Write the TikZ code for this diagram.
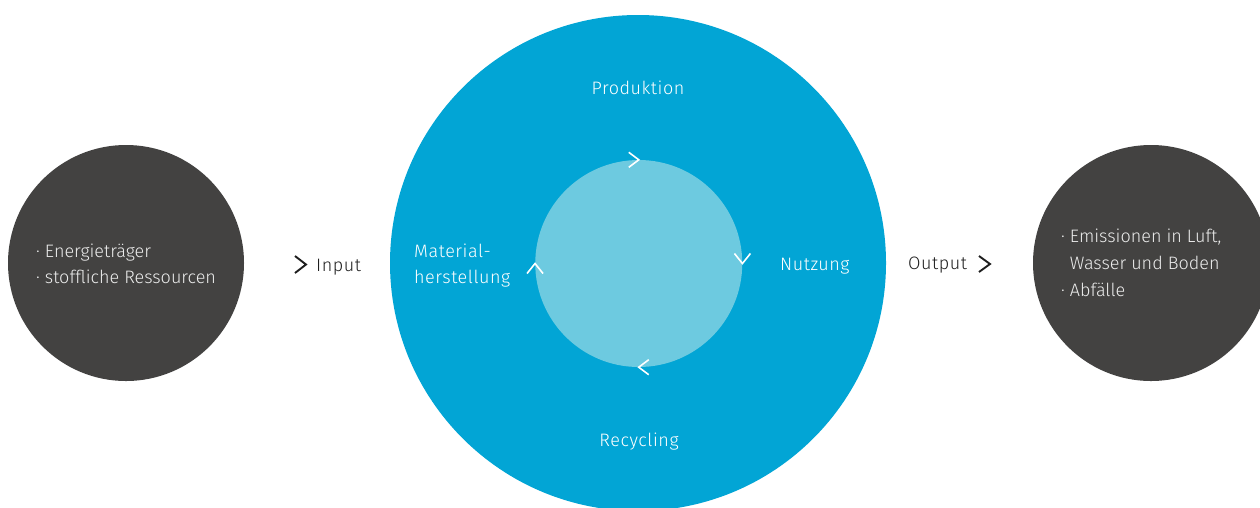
\documentclass[tikz,border=0pt]{standalone}
\usepackage{fontspec}
\setmainfont{Fira Sans}[UprightFont=* Light, LetterSpace=3]
\newfontfamily\tightfont{Fira Sans}[UprightFont=* Light, LetterSpace=0]
\definecolor{darkc}{HTML}{434241}
\definecolor{bluec}{HTML}{02A5D5}
\definecolor{lightc}{HTML}{6DCAE0}
\definecolor{palet}{HTML}{ECECEC}
\definecolor{inkc}{HTML}{1E1E1E}
\begin{document}
\begin{tikzpicture}[x=1pt,y=-1pt,
  disc/.style={circle, inner sep=0pt, draw=none},
  txt/.style={font=\fontsize{18}{27}\selectfont, inner sep=0pt},
  wtxt/.style={inner sep=0pt, font=\tightfont\fontsize{18}{27}\selectfont, text=palet},
  btxt/.style={txt, text=white},
  ktxt/.style={txt, text=inkc},
  wchev/.style={draw=white, line width=1.6pt},
  kchev/.style={draw=inkc, line width=1.9pt}]
\useasboundingbox (0,0) rectangle (1260,507);
% circles
\node[disc, fill=darkc, minimum size=236pt] (src) at (126,263) {};
\node[disc, fill=bluec, minimum size=496pt] (cycle) at (638,263) {};
\node[disc, fill=lightc, minimum size=207pt] (core) at (638.75,263.5) {};
\node[disc, fill=darkc, minimum size=236pt] (sink) at (1151,263) {};
% cycle chevrons
\draw[wchev] ([shift={(-10,-7.5)}]core.north) -- (core.north) -- ([shift={(-10,7.5)}]core.north);
\draw[wchev] ([shift={(-8,-10)}]core.east) -- (core.east) -- ([shift={(8,-10)}]core.east);
\draw[wchev] ([shift={(10,-7.5)}]core.south) -- (core.south) -- ([shift={(10,7.5)}]core.south);
\draw[wchev] ([shift={(-8,10)}]core.west) -- (core.west) -- ([shift={(8,10)}]core.west);
% stage labels
\node[btxt, anchor=base] (prod) at (638,94) {Produktion};
\node[btxt, anchor=base] (recy) at (639,446) {Recycling};
\node[btxt, anchor=base west] (nutz) at (780,270) {Nutzung};
\node[btxt, anchor=base west] (mat1) at (414,257) {Material-};
\node[btxt, anchor=base west] (mat2) at (414,283.5) {herstellung};
% source text
\node[wtxt, anchor=base west] (s1) at (36,257) {· Energieträger};
\node[wtxt, anchor=base west] (s2) at (36,283.5) {· stoffliche Ressourcen};
% sink text
\node[wtxt, anchor=base west] (k1) at (1061,242) {· Emissionen in Luft,};
\node[wtxt, anchor=base west] (k2) at (1061,269) {\phantom{· }Wasser und Boden};
\node[wtxt, anchor=base west] (k3) at (1061,296) {· Abfälle};
% input / output
\node[ktxt, anchor=base west] (inp) at (316,271.5) {Input};
\node[ktxt, anchor=base west] (outp) at (908,269.5) {Output};
\coordinate (inTip) at (306,264.5);
\coordinate (outTip) at (990,264);
\draw[kchev] ([shift={(-11,-8.5)}]inTip) -- (inTip) -- ([shift={(-11,8.5)}]inTip);
\draw[kchev] ([shift={(-11,-8)}]outTip) -- (outTip) -- ([shift={(-11,8)}]outTip);
\end{tikzpicture}
\end{document}
